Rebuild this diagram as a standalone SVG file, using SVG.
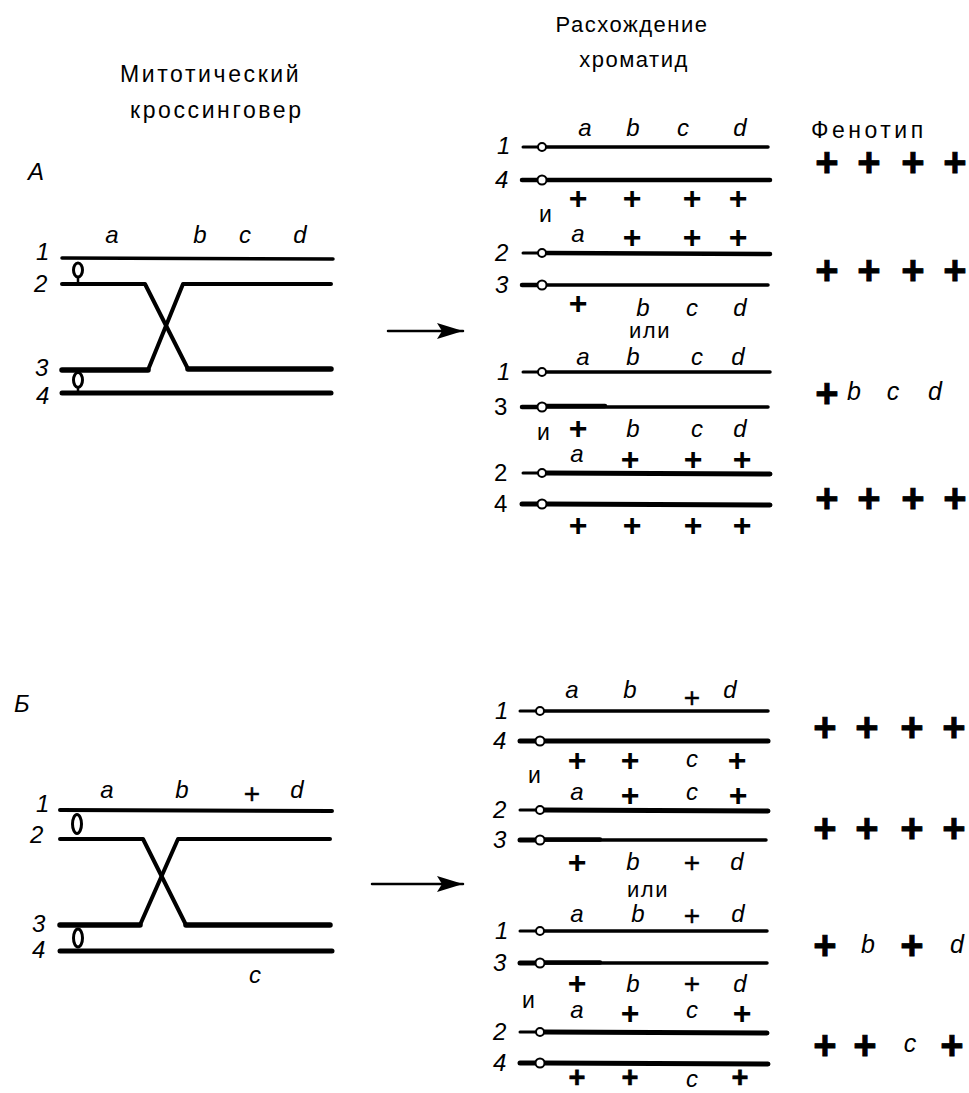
<svg xmlns="http://www.w3.org/2000/svg" width="969" height="1093" viewBox="0 0 969 1093">
<style>
text{font-family:"Liberation Sans",Arial,sans-serif;fill:#000}
.h{font-size:23px;letter-spacing:2.6px}
.hm{font-size:22px;letter-spacing:1.5px;text-anchor:middle}
.l{font-size:24px;font-style:italic;text-anchor:middle}
.lp{font-size:25px;font-style:italic;text-anchor:middle}
.n{font-size:24px;font-style:italic}
.nu{font-size:24px}
.i{font-size:23px}
.p{font-size:32px;font-weight:bold;text-anchor:middle}
.pb{font-size:29px;font-weight:bold;text-anchor:middle;stroke:#000;stroke-width:0.6}
.pt{font-size:28px;text-anchor:middle;stroke:#000;stroke-width:0.4}
.pf{font-size:40px;font-weight:bold;text-anchor:middle;stroke:#000;stroke-width:0.8}
.ln{stroke:#000;fill:none;stroke-linecap:round;stroke-linejoin:round}
.cen{fill:#fff;stroke:#000;stroke-width:2}
.ov{fill:#fff;stroke:#000;stroke-width:3}
</style>
<defs>
<marker id="ah" markerWidth="28" markerHeight="18" refX="26" refY="8" orient="auto" markerUnits="userSpaceOnUse">
<path d="M26 8 L0 0 L5 8 L0 16 Z" fill="#000"/>
</marker>
</defs>

<g id="headers">
<text class="h" x="120" y="82">Митотический</text>
<text class="h" x="130" y="118">кроссинговер</text>
<text class="hm" x="632" y="32">Расхождение</text>
<text class="hm" x="634" y="67">хроматид</text>
<text class="h" x="811" y="138" style="letter-spacing:3.5px">Фенотип</text>
</g>

<!-- ===== A: mitotic crossover ===== -->
<g id="crossover-A">
<text class="n" x="28" y="180">A</text>
<text class="l" x="112" y="243">a</text>
<text class="l" x="200" y="243">b</text>
<text class="l" x="245" y="243">c</text>
<text class="l" x="300" y="243">d</text>
<text class="n" x="36" y="260">1</text>
<text class="n" x="34" y="292">2</text>
<text class="n" x="35" y="376">3</text>
<text class="n" x="36" y="404">4</text>
<line class="ln" x1="62" y1="258" x2="333" y2="259" stroke-width="3.5"/>
<path class="ln" d="M62 284 H145 L188 369 H331" stroke-width="4"/>
<path class="ln" d="M62 370 H148 L183 284 H331" stroke-width="4"/>
<path class="ln" d="M62 370 H148 M188 369 H331" stroke-width="5.5"/>
<line class="ln" x1="62" y1="393" x2="331" y2="393" stroke-width="5"/>
<ellipse class="ov" cx="78" cy="270" rx="4.5" ry="7"/>
<line class="ln" x1="78" y1="277" x2="78" y2="284" stroke-width="2.5"/>
<ellipse class="ov" cx="78" cy="380" rx="4.5" ry="7.5"/>
<line class="ln" x1="78" y1="387" x2="78" y2="393" stroke-width="2.5"/>
</g>

<!-- ===== Б: mitotic crossover ===== -->
<g id="crossover-B">
<text class="n" x="14" y="712">Б</text>
<text class="l" x="107" y="798">a</text>
<text class="l" x="182" y="798">b</text>
<text class="pt" x="252" y="803">+</text>
<text class="l" x="297" y="798">d</text>
<text class="n" x="36" y="812">1</text>
<text class="n" x="30" y="843">2</text>
<text class="n" x="32" y="932">3</text>
<text class="n" x="32" y="958">4</text>
<line class="ln" x1="60" y1="810" x2="332" y2="811" stroke-width="4"/>
<path class="ln" d="M60 839 H143 L186 925 H330" stroke-width="4"/>
<path class="ln" d="M60 925 H140 L178 839 H330" stroke-width="4"/>
<path class="ln" d="M60 925 H140 M186 925 H330" stroke-width="5.5"/>
<line class="ln" x1="60" y1="951" x2="332" y2="951" stroke-width="5"/>
<ellipse class="ov" cx="77" cy="824" rx="4.5" ry="9.5"/>
<ellipse class="ov" cx="78" cy="938" rx="4.5" ry="9"/>
<text class="l" x="255" y="983">c</text>
</g>

<g id="connectors">
<line class="ln" x1="388" y1="331" x2="463" y2="331" stroke-width="2.5" marker-end="url(#ah)"/>
<line class="ln" x1="372" y1="884" x2="463" y2="884" stroke-width="2.5" marker-end="url(#ah)"/>
</g>

<!-- ===== A: segregation, variant 1 ===== -->
<g id="A-seg1-row1">
<text class="n" x="497" y="154">1</text>
<line class="ln" x1="523" y1="147" x2="538" y2="147" stroke-width="3"/>
<line class="ln" x1="546" y1="147" x2="768" y2="147" stroke-width="3.5"/>
<circle class="cen" cx="542" cy="147" r="4"/>
<text class="l" x="585" y="136">a</text>
<text class="l" x="633" y="136">b</text>
<text class="l" x="683" y="136">c</text>
<text class="l" x="740" y="136">d</text>
</g>
<g id="A-seg1-row4">
<text class="n" x="495" y="188">4</text>
<line class="ln" x1="522" y1="180" x2="538" y2="180" stroke-width="4.5"/>
<line class="ln" x1="546" y1="180" x2="770" y2="180" stroke-width="4.5"/>
<circle class="cen" cx="542" cy="180" r="4.5"/>
<text class="p" x="578" y="209">+</text>
<text class="p" x="632" y="209">+</text>
<text class="p" x="692" y="209">+</text>
<text class="p" x="738" y="209">+</text>
</g>
<text class="i" x="539" y="222">и</text>
<g id="A-seg1-row2">
<text class="n" x="495" y="261">2</text>
<line class="ln" x1="523" y1="253" x2="538" y2="253" stroke-width="3"/>
<line class="ln" x1="546" y1="253" x2="770" y2="254" stroke-width="4.5"/>
<circle class="cen" cx="542" cy="253" r="4"/>
<text class="l" x="578" y="242">a</text>
<text class="p" x="632" y="248">+</text>
<text class="p" x="692" y="248">+</text>
<text class="p" x="738" y="248">+</text>
</g>
<g id="A-seg1-row3">
<text class="n" x="495" y="293">3</text>
<line class="ln" x1="522" y1="285" x2="538" y2="285" stroke-width="4.5"/>
<line class="ln" x1="546" y1="285" x2="768" y2="285" stroke-width="3.5"/>
<circle class="cen" cx="542" cy="285" r="4.5"/>
<text class="p" x="578" y="314">+</text>
<text class="l" x="643" y="316">b</text>
<text class="l" x="692" y="316">c</text>
<text class="l" x="740" y="316">d</text>
</g>
<text class="hm" x="650" y="338">или</text>

<!-- ===== A: segregation, variant 2 ===== -->
<g id="A-seg2-row1">
<text class="n" x="497" y="380">1</text>
<line class="ln" x1="523" y1="372" x2="538" y2="372" stroke-width="3"/>
<line class="ln" x1="546" y1="372" x2="770" y2="372" stroke-width="3.5"/>
<circle class="cen" cx="542" cy="372" r="4"/>
<text class="l" x="583" y="365">a</text>
<text class="l" x="633" y="365">b</text>
<text class="l" x="697" y="365">c</text>
<text class="l" x="738" y="365">d</text>
</g>
<g id="A-seg2-row3">
<text class="nu" x="494" y="415">3</text>
<line class="ln" x1="522" y1="407" x2="538" y2="407" stroke-width="4.5"/>
<path class="ln" d="M546 406 H605" stroke-width="4.5"/>
<line class="ln" x1="546" y1="407" x2="768" y2="407" stroke-width="3.5"/>
<circle class="cen" cx="542" cy="407" r="4.5"/>
<text class="p" x="578" y="439">+</text>
<text class="l" x="633" y="437">b</text>
<text class="l" x="697" y="437">c</text>
<text class="l" x="740" y="437">d</text>
</g>
<text class="i" x="537" y="440">и</text>
<g id="A-seg2-row2">
<text class="nu" x="494" y="481">2</text>
<line class="ln" x1="523" y1="473" x2="538" y2="473" stroke-width="3"/>
<line class="ln" x1="546" y1="473" x2="770" y2="474" stroke-width="5"/>
<circle class="cen" cx="542" cy="473" r="4"/>
<text class="l" x="577" y="462">a</text>
<text class="p" x="630" y="470">+</text>
<text class="p" x="693" y="470">+</text>
<text class="p" x="742" y="470">+</text>
</g>
<g id="A-seg2-row4">
<text class="nu" x="494" y="512">4</text>
<line class="ln" x1="522" y1="504" x2="538" y2="504" stroke-width="5"/>
<line class="ln" x1="546" y1="504" x2="770" y2="505" stroke-width="5"/>
<circle class="cen" cx="542" cy="504" r="4.5"/>
<text class="p" x="578" y="536">+</text>
<text class="p" x="632" y="536">+</text>
<text class="p" x="693" y="536">+</text>
<text class="p" x="742" y="536">+</text>
</g>

<g id="phenotype-A">
<text class="pf" x="827" y="176">+</text>
<text class="pf" x="869" y="176">+</text>
<text class="pf" x="913" y="176">+</text>
<text class="pf" x="955" y="176">+</text>
<text class="pf" x="827" y="284">+</text>
<text class="pf" x="869" y="284">+</text>
<text class="pf" x="913" y="284">+</text>
<text class="pf" x="955" y="284">+</text>
<text class="pf" x="827" y="407">+</text>
<text class="lp" x="854" y="400">b</text>
<text class="lp" x="893" y="400">c</text>
<text class="lp" x="935" y="400">d</text>
<text class="pf" x="827" y="512">+</text>
<text class="pf" x="869" y="512">+</text>
<text class="pf" x="913" y="512">+</text>
<text class="pf" x="955" y="512">+</text>
</g>

<!-- ===== Б: segregation, variant 1 ===== -->
<g id="B-seg1-row1">
<text class="n" x="495" y="719">1</text>
<line class="ln" x1="520" y1="711" x2="536" y2="711" stroke-width="3"/>
<line class="ln" x1="544" y1="711" x2="768" y2="711" stroke-width="3.5"/>
<circle class="cen" cx="540" cy="711" r="4"/>
<text class="l" x="572" y="698">a</text>
<text class="l" x="630" y="698">b</text>
<text class="pt" x="692" y="707">+</text>
<text class="l" x="730" y="698">d</text>
</g>
<g id="B-seg1-row4">
<text class="n" x="493" y="749">4</text>
<line class="ln" x1="520" y1="741" x2="536" y2="741" stroke-width="5"/>
<line class="ln" x1="544" y1="741" x2="768" y2="741" stroke-width="5"/>
<circle class="cen" cx="540" cy="741" r="4.5"/>
<text class="p" x="577" y="771">+</text>
<text class="p" x="630" y="771">+</text>
<text class="l" x="692" y="767">c</text>
<text class="p" x="737" y="771">+</text>
</g>
<text class="i" x="528" y="783">и</text>
<g id="B-seg1-row2">
<text class="n" x="493" y="818">2</text>
<line class="ln" x1="520" y1="810" x2="536" y2="810" stroke-width="3"/>
<line class="ln" x1="544" y1="810" x2="768" y2="811" stroke-width="5"/>
<circle class="cen" cx="540" cy="810" r="4"/>
<text class="l" x="577" y="800">a</text>
<text class="p" x="630" y="806">+</text>
<text class="l" x="692" y="800">c</text>
<text class="p" x="738" y="806">+</text>
</g>
<g id="B-seg1-row3">
<text class="n" x="493" y="848">3</text>
<line class="ln" x1="520" y1="840" x2="536" y2="840" stroke-width="5"/>
<path class="ln" d="M544 839.5 H600" stroke-width="4.5"/>
<line class="ln" x1="544" y1="840" x2="766" y2="840" stroke-width="3.5"/>
<circle class="cen" cx="540" cy="840" r="4.5"/>
<text class="p" x="577" y="873">+</text>
<text class="l" x="633" y="870">b</text>
<text class="pt" x="692" y="872">+</text>
<text class="l" x="737" y="870">d</text>
</g>
<text class="hm" x="648" y="897">или</text>

<!-- ===== Б: segregation, variant 2 ===== -->
<g id="B-seg2-row1">
<text class="n" x="495" y="939">1</text>
<line class="ln" x1="520" y1="931" x2="536" y2="931" stroke-width="3"/>
<line class="ln" x1="544" y1="931" x2="767" y2="931" stroke-width="3.5"/>
<circle class="cen" cx="540" cy="931" r="4"/>
<text class="l" x="577" y="922">a</text>
<text class="l" x="638" y="922">b</text>
<text class="pt" x="692" y="925">+</text>
<text class="l" x="738" y="922">d</text>
</g>
<g id="B-seg2-row3">
<text class="n" x="493" y="971">3</text>
<line class="ln" x1="520" y1="963" x2="536" y2="963" stroke-width="5"/>
<path class="ln" d="M544 962.5 H600" stroke-width="4.5"/>
<line class="ln" x1="544" y1="963" x2="767" y2="963" stroke-width="3.5"/>
<circle class="cen" cx="540" cy="963" r="4.5"/>
<text class="p" x="577" y="994">+</text>
<text class="l" x="633" y="992">b</text>
<text class="pt" x="692" y="993">+</text>
<text class="l" x="740" y="992">d</text>
</g>
<text class="i" x="522" y="1008">и</text>
<g id="B-seg2-row2">
<text class="n" x="493" y="1040">2</text>
<line class="ln" x1="520" y1="1032" x2="536" y2="1032" stroke-width="3"/>
<line class="ln" x1="544" y1="1032" x2="767" y2="1033" stroke-width="5"/>
<circle class="cen" cx="540" cy="1032" r="4"/>
<text class="l" x="577" y="1018">a</text>
<text class="p" x="630" y="1024">+</text>
<text class="l" x="692" y="1018">c</text>
<text class="p" x="742" y="1024">+</text>
</g>
<g id="B-seg2-row4">
<text class="n" x="493" y="1071">4</text>
<line class="ln" x1="520" y1="1063" x2="536" y2="1063" stroke-width="5"/>
<line class="ln" x1="544" y1="1063" x2="768" y2="1064" stroke-width="5"/>
<circle class="cen" cx="540" cy="1063" r="4.5"/>
<text class="pb" x="577" y="1087">+</text>
<text class="pb" x="630" y="1087">+</text>
<text class="l" x="692" y="1087">c</text>
<text class="pb" x="740" y="1087">+</text>
</g>

<g id="phenotype-B">
<text class="pf" x="825" y="741">+</text>
<text class="pf" x="867" y="741">+</text>
<text class="pf" x="912" y="741">+</text>
<text class="pf" x="954" y="741">+</text>
<text class="pf" x="825" y="842">+</text>
<text class="pf" x="867" y="842">+</text>
<text class="pf" x="912" y="842">+</text>
<text class="pf" x="954" y="842">+</text>
<text class="pf" x="825" y="959">+</text>
<text class="lp" x="868" y="953">b</text>
<text class="pf" x="912" y="959">+</text>
<text class="lp" x="957" y="953">d</text>
<text class="pf" x="825" y="1059">+</text>
<text class="pf" x="865" y="1059">+</text>
<text class="lp" x="910" y="1052">c</text>
<text class="pf" x="952" y="1059">+</text>
</g>
</svg>
